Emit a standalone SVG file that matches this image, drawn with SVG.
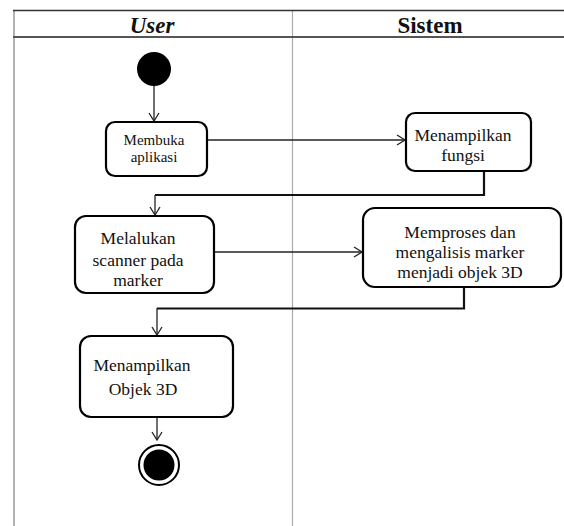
<svg xmlns="http://www.w3.org/2000/svg" width="564" height="526" viewBox="0 0 564 526">
<style>
.node{fill:#fff;stroke:#000;stroke-width:2.2}
.t{font-family:"Liberation Serif","Times New Roman",serif;fill:#111;text-anchor:middle}
.h{font-family:"Liberation Serif","Times New Roman",serif;font-weight:bold;font-size:23px;fill:#111;text-anchor:middle}
.c{fill:none;stroke:#222;stroke-width:1.3}
.cb{fill:none;stroke:#111;stroke-width:2.2}
</style>
<defs>
<marker id="arr" markerWidth="12" markerHeight="12" refX="10" refY="6" orient="auto" markerUnits="userSpaceOnUse">
<polyline points="2,1 10,6 2,11" fill="none" stroke="#222" stroke-width="1.3"/>
</marker>
</defs>
<rect width="564" height="526" fill="#fff"/>
<g id="swimlanes">
<line x1="14" y1="10" x2="14" y2="526" stroke="#999" stroke-width="1.5"/>
<line x1="292.5" y1="10" x2="292.5" y2="526" stroke="#aaa" stroke-width="1.2"/>
<line x1="13" y1="10.5" x2="564" y2="10.5" stroke="#333" stroke-width="1.5"/>
<line x1="13" y1="37" x2="564" y2="37" stroke="#555" stroke-width="2"/>
<text class="h" x="152" y="33" font-style="italic">User</text>
<text class="h" x="430" y="33">Sistem</text>
</g>
<g id="connectors">
<line class="c" x1="154" y1="86" x2="154" y2="121" marker-end="url(#arr)"/>
<line class="c" x1="207" y1="140" x2="405" y2="140" marker-end="url(#arr)"/>
<polyline class="cb" points="484,171 484,195 155,195"/>
<line class="c" x1="155" y1="195" x2="155" y2="215" marker-end="url(#arr)"/>
<line class="c" x1="214" y1="252" x2="362" y2="252" marker-end="url(#arr)"/>
<polyline class="cb" points="464,287 464,308.5 157,308.5"/>
<line class="c" x1="157" y1="308" x2="157" y2="335" marker-end="url(#arr)"/>
<line class="c" x1="157" y1="417" x2="157" y2="440" marker-end="url(#arr)"/>
</g>
<g id="start">
<circle cx="154" cy="69" r="17" fill="#000"/>
</g>
<g id="membuka">
<rect class="node" x="106" y="122" width="101" height="54" rx="9"/>
<text class="t" font-size="15" x="154" y="145">Membuka</text>
<text class="t" font-size="15" x="154" y="162">aplikasi</text>
</g>
<g id="menampilkan-fungsi">
<rect class="node" x="406" y="113" width="125" height="58" rx="9"/>
<text class="t" font-size="17.5" x="463" y="141">Menampilkan</text>
<text class="t" font-size="17.5" x="463" y="161">fungsi</text>
</g>
<g id="melalukan">
<rect class="node" x="75" y="216" width="139" height="77" rx="11"/>
<text class="t" font-size="17.5" x="138" y="244">Melalukan</text>
<text class="t" font-size="17.5" x="138" y="266">scanner pada</text>
<text class="t" font-size="17.5" x="138" y="286">marker</text>
</g>
<g id="memproses">
<rect class="node" x="363" y="208" width="198" height="79" rx="12"/>
<text class="t" font-size="17.5" x="460" y="238">Memproses dan</text>
<text class="t" font-size="17.5" x="460" y="258">mengalisis marker</text>
<text class="t" font-size="17.5" x="460" y="278">menjadi objek 3D</text>
</g>
<g id="menampilkan-objek">
<rect class="node" x="80" y="336" width="153" height="81" rx="11"/>
<text class="t" font-size="17.5" x="142" y="371">Menampilkan</text>
<text class="t" font-size="17.5" x="143" y="395">Objek 3D</text>
</g>
<g id="end">
<circle cx="159" cy="465" r="20" fill="#fff" stroke="#000" stroke-width="2"/>
<circle cx="159" cy="465" r="15.5" fill="#000"/>
</g>
</svg>
